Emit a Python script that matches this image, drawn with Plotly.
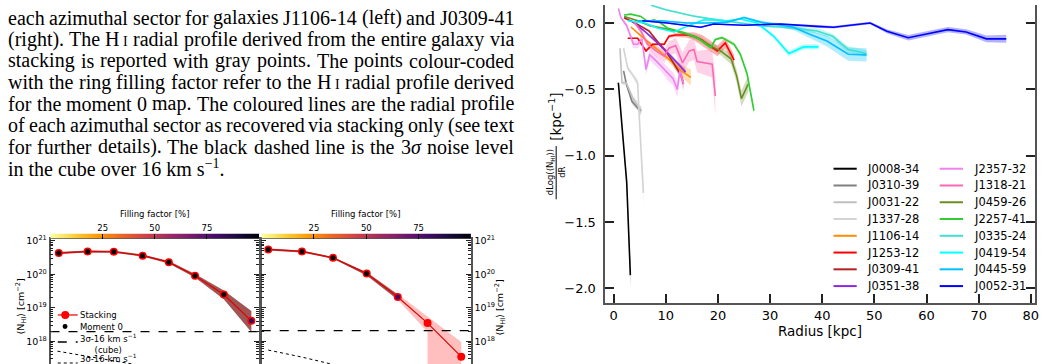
import numpy as np
import plotly.graph_objects as go

W, H = 1049, 364

# ====================== DATA: right figure (dlog<N_HI>/dR vs radius) ======================
NAMES = ["J0008-34", "J0310-39", "J0031-22", "J1337-28", "J1106-14", "J1253-12", "J0309-41", "J0351-38",
         "J2357-32", "J1318-21", "J0459-26", "J2257-41", "J0335-24", "J0419-54", "J0445-59", "J0052-31"]

R_J0008_34 = [0.9, 2.5, 3.2]
D_J0008_34 = [-0.45, -1.20, -1.90]
E_J0008_34 = [0.01, 0.03, 0.10]

R_J0310_39 = [1.9, 2.5, 3.5, 4.6, 5.3]
D_J0310_39 = [-0.36, -0.47, -0.59, -0.64, -0.66]
E_J0310_39 = [0.01, 0.015, 0.02, 0.02, 0.03]

R_J0031_22 = [1.2, 1.6, 2.4, 3.6, 4.6, 5.2]
D_J0031_22 = [-0.19, -0.45, -0.45, -0.56, -0.62, -0.67]
E_J0031_22 = [0.01, 0.015, 0.02, 0.02, 0.03, 0.04]

R_J1337_28 = [1.9, 2.7, 3.8, 4.6, 4.9, 5.3, 5.7]
D_J1337_28 = [-0.19, -0.34, -0.40, -0.45, -0.70, -1.05, -1.28]
E_J1337_28 = [0.01, 0.02, 0.02, 0.03, 0.05, 0.07, 0.10]

R_J1106_14 = [3.3, 5.0, 6.5, 8.1, 9.7, 11.4, 13.0, 14.8]
D_J1106_14 = [-0.03, -0.09, -0.14, -0.19, -0.24, -0.30, -0.36, -0.41]
E_J1106_14 = [0.005, 0.01, 0.01, 0.015, 0.02, 0.03, 0.045, 0.06]

R_J1253_12 = [2.7, 4.6, 6.2, 7.5, 9.7, 10.6, 11.9, 14.1, 15.4, 17.0, 18.0, 19.9, 21.4, 23.1]
D_J1253_12 = [-0.115, -0.115, -0.21, -0.16, -0.16, -0.10, -0.09, -0.09, -0.10, -0.13, -0.16, -0.21, -0.15, -0.28]
E_J1253_12 = [0.005, 0.005, 0.01, 0.01, 0.01, 0.01, 0.015, 0.02, 0.03, 0.04, 0.04, 0.04, 0.04, 0.04]

R_J0309_41 = [2.0, 4.6, 6.8, 8.4, 10.0, 11.6, 12.9, 13.4]
D_J0309_41 = [0.04, -0.01, -0.06, -0.14, -0.21, -0.31, -0.39, -0.46]
E_J0309_41 = [0.005, 0.005, 0.01, 0.01, 0.015, 0.02, 0.03, 0.03]

R_J0351_38 = [3.3, 5.9, 8.4, 11.0, 13.8]
D_J0351_38 = [0.02, -0.06, -0.15, -0.25, -0.37]
E_J0351_38 = [0.005, 0.01, 0.01, 0.015, 0.02]

R_J2357_32 = [0.9, 1.4, 2.5, 3.8, 4.6, 5.4, 6.2, 6.9, 8.0, 9.0, 10.3, 11.4, 12.2, 12.7, 13.4]
D_J2357_32 = [0.11, 0.04, -0.02, -0.16, -0.16, -0.12, -0.35, -0.24, -0.28, -0.32, -0.38, -0.42, -0.50, -0.36, -0.46]
E_J2357_32 = [0.01, 0.01, 0.02, 0.03, 0.03, 0.03, 0.04, 0.04, 0.04, 0.04, 0.05, 0.05, 0.06, 0.06, 0.06]

R_J1318_21 = [3.9, 5.2, 6.5, 8.1, 9.7, 10.6, 11.9, 13.2, 14.5, 15.4, 16.0, 18.0, 18.9, 19.5]
D_J1318_21 = [0.01, -0.06, -0.16, -0.21, -0.25, -0.19, -0.17, -0.30, -0.21, -0.20, -0.29, -0.30, -0.31, -0.55]
E_J1318_21 = [0.01, 0.02, 0.03, 0.04, 0.05, 0.05, 0.06, 0.08, 0.08, 0.08, 0.08, 0.10, 0.10, 0.15]

R_J0459_26 = [2.0, 4.5, 7.0, 9.5, 12.0, 14.5, 16.5, 18.5, 20.5, 22.5, 23.6, 24.5, 25.8]
D_J0459_26 = [0.05, 0.02, -0.02, -0.04, -0.06, -0.09, -0.12, -0.17, -0.21, -0.27, -0.40, -0.57, -0.46]
E_J0459_26 = [0.005, 0.005, 0.01, 0.01, 0.01, 0.015, 0.02, 0.02, 0.03, 0.04, 0.05, 0.06, 0.06]

R_J2257_41 = [2.0, 3.3, 5.2, 6.5, 7.8, 9.0, 10.3, 13.5, 16.0, 18.6, 19.5, 20.8, 23.1, 24.3, 25.6, 26.9]
D_J2257_41 = [0.06, 0.067, 0.05, 0.012, 0.025, 0.0, -0.037, -0.074, -0.11, -0.186, -0.124, -0.11, -0.16, -0.236, -0.384, -0.66]
E_J2257_41 = [0.005, 0.005, 0.005, 0.005, 0.005, 0.005, 0.005, 0.01, 0.01, 0.01, 0.01, 0.01, 0.015, 0.02, 0.025, 0.03]

R_J0335_24 = [5.5, 7.5, 10.0, 12.5, 15.0, 18.0, 21.0, 24.5, 28.0, 32.0, 35.0, 39.0, 42.0, 45.0, 48.5]
D_J0335_24 = [0.18, 0.13, 0.10, 0.075, 0.055, 0.035, 0.02, 0.0, -0.02, -0.03, -0.04, -0.06, -0.10, -0.20, -0.23]
E_J0335_24 = [0.005, 0.005, 0.005, 0.005, 0.005, 0.005, 0.005, 0.01, 0.01, 0.01, 0.015, 0.02, 0.02, 0.025, 0.025]

R_J0419_54 = [2.7, 5.9, 8.4, 11.6, 14.8, 17.3, 21.8, 24.3, 27.5, 30.7, 33.6, 36.4, 39.3]
D_J0419_54 = [0.017, 0.0, -0.037, -0.067, -0.012, 0.025, 0.017, 0.03, 0.0, -0.10, -0.23, -0.18, -0.18]
E_J0419_54 = [0.005, 0.005, 0.005, 0.005, 0.005, 0.005, 0.005, 0.005, 0.01, 0.015, 0.02, 0.02, 0.02]

R_J0445_59 = [4.6, 9.0, 14.1, 18.0, 21.8, 25.0, 28.2, 32.0, 34.5, 37.7, 40.9, 45.0, 48.5]
D_J0445_59 = [0.017, 0.017, 0.0, 0.0, 0.007, 0.042, 0.007, -0.017, -0.032, -0.087, -0.136, -0.235, -0.24]
E_J0445_59 = [0.005, 0.005, 0.005, 0.005, 0.005, 0.01, 0.01, 0.015, 0.02, 0.03, 0.04, 0.05, 0.05]

R_J0052_31 = [5.5, 10.3, 16.7, 19.2, 25.0, 32.0, 39.0, 42.2, 45.4, 49.2, 52.4, 56.5, 60.0, 64.1, 67.6, 71.5, 75.3]
D_J0052_31 = [0.017, 0.0, -0.032, -0.007, -0.017, -0.007, -0.025, -0.032, -0.017, 0.0, -0.062, -0.111, -0.082, -0.05, -0.067, -0.119, -0.119]
E_J0052_31 = [0.005, 0.005, 0.005, 0.005, 0.005, 0.005, 0.01, 0.01, 0.01, 0.01, 0.015, 0.02, 0.02, 0.02, 0.02, 0.025, 0.03]

RADII = [R_J0008_34, R_J0310_39, R_J0031_22, R_J1337_28, R_J1106_14, R_J1253_12, R_J0309_41, R_J0351_38,
         R_J2357_32, R_J1318_21, R_J0459_26, R_J2257_41, R_J0335_24, R_J0419_54, R_J0445_59, R_J0052_31]
SLOPES = [D_J0008_34, D_J0310_39, D_J0031_22, D_J1337_28, D_J1106_14, D_J1253_12, D_J0309_41, D_J0351_38,
          D_J2357_32, D_J1318_21, D_J0459_26, D_J2257_41, D_J0335_24, D_J0419_54, D_J0445_59, D_J0052_31]
ERRORS = [E_J0008_34, E_J0310_39, E_J0031_22, E_J1337_28, E_J1106_14, E_J1253_12, E_J0309_41, E_J0351_38,
          E_J2357_32, E_J1318_21, E_J0459_26, E_J2257_41, E_J0335_24, E_J0419_54, E_J0445_59, E_J0052_31]

# ====================== DATA: small profiles (bottom-left) ======================
R_LEFT = [1.0, 3.2, 5.2, 7.4, 9.4, 11.4, 13.6, 15.7]
N_LEFT_STACK = [4.3e20, 4.8e20, 4.7e20, 3.6e20, 2.3e20, 9.1e19, 2.5e19, 4.1e18]
N_LEFT_HI = [4.6e20, 5.1e20, 5.0e20, 3.9e20, 2.5e20, 1.02e20, 3.3e19, 8.1e18]
N_LEFT_LO = [4.0e20, 4.5e20, 4.4e20, 3.4e20, 2.1e20, 8.0e19, 1.8e19, 1.9e18]
N_LEFT_MOM0 = [4.3e20, 4.8e20, 4.7e20, 3.6e20, 2.3e20, 9.1e19, 2.5e19, 4.1e18]
FF_LEFT = [100, 100, 100, 100, 100, 100, 100, 82]
NOISE_LEFT_CUBE = 1.95e18
R_LEFT_NOISE_STACK = [0.9, 5.2, 9.4, 15.7]
N_LEFT_NOISE_STACK = [5.1e17, 2.6e17, 1.4e17, 5.2e16]

R_RIGHT = [1.0, 3.6, 6.0, 8.6, 11.0, 13.3, 15.9]
N_RIGHT_STACK = [5.5e20, 4.8e20, 3.1e20, 1.05e20, 2.1e19, 3.5e18, 3.5e17]
R_RIGHT_BAND = [1.0, 3.6, 6.0, 8.6, 11.0, 13.3, 13.3, 15.9]
N_RIGHT_BAND_HI = [5.9e20, 5.1e20, 3.3e20, 1.15e20, 2.6e19, 5.5e18, 5.5e18, 9.5e17]
N_RIGHT_BAND_LO = [5.1e20, 4.5e20, 2.9e20, 9.2e19, 1.75e19, 1.9e18, 1e16, 1e16]
R_RIGHT_MOM0 = [1.0, 3.6, 6.0, 8.6, 11.0]
N_RIGHT_MOM0 = [5.5e20, 4.8e20, 3.1e20, 1.05e20, 2.1e19]
N_RIGHT_MOM0_HI = [5.9e20, 5.1e20, 3.3e20, 1.15e20, 2.5e19]
N_RIGHT_MOM0_LO = [5.1e20, 4.5e20, 2.9e20, 9.2e19, 1.75e19]
FF_RIGHT = [100, 100, 100, 100, 80]
NOISE_RIGHT_CUBE = 2.1e18
R_RIGHT_NOISE_STACK = [1.0, 3.6, 6.0, 10.0, 15.9]
N_RIGHT_NOISE_STACK = [5.5e17, 3.4e17, 2.05e17, 9e16, 3e16]

# ====================== TEXT ======================
TEXT_LINES = [
    "each azimuthal sector for galaxies J1106-14 (left) and J0309-41",
    "(right). The HI radial profile derived from the entire galaxy via",
    "stacking is reported with gray points. The points colour-coded",
    "with the ring filling factor refer to the HI radial profile derived",
    "for the moment 0 map. The coloured lines are the radial profile",
    "of each azimuthal sector as recovered via stacking only (see text",
    "for further details). The black dashed line is the 3σ noise level",
]
LAST_LINE = "in the cube over 16 km s<sup>−1</sup>."

# ====================== STYLE ======================
COLORS = ["#000000", "#808080", "#c0c0c0", "#d3d3d3", "#ff8c00", "#ff0000", "#b22222", "#8a2be2",
          "#ee82ee", "#ff69b4", "#6b8e23", "#32cd32", "#40e0d0", "#00ffff", "#00bfff", "#0000ff"]
TXT = "#000000"
SPINE = "#555555"
FONT = "DejaVu Sans"


def rgba(hexc, a):
    hexc = hexc.lstrip("#")
    r, g, b = int(hexc[0:2], 16), int(hexc[2:4], 16), int(hexc[4:6], 16)
    return f"rgba({r},{g},{b},{a})"


def fx(p):
    return p / W


def fy(p):
    return 1 - p / H


fig = go.Figure()

# ---------------- main chart ----------------
for name, col, R, D, E in zip(NAMES, COLORS, RADII, SLOPES, ERRORS):
    up = [d + e for d, e in zip(D, E)]
    lo = [d - e for d, e in zip(D, E)]
    fig.add_trace(go.Scatter(x=R + R[::-1], y=up + lo[::-1], fill="toself", fillcolor=rgba(col, 0.3),
                             line=dict(width=0), mode="lines", hoverinfo="skip", showlegend=False,
                             xaxis="x", yaxis="y"))
for name, col, R, D in zip(NAMES, COLORS, RADII, SLOPES):
    fig.add_trace(go.Scatter(x=R, y=D, mode="lines", line=dict(color=col, width=1.6), name=name,
                             showlegend=False, xaxis="x", yaxis="y"))

# ---------------- bottom-left panels ----------------
X2_RANGE = [0.369, 16.285]
X3_RANGE = [0.492, 16.646]
Y_LOG_RANGE = [17.325, 21.06]
PINK = "rgba(255,0,0,0.25)"
DARK = "rgba(84,0,0,0.555)"

# left panel (J1106-14)
fig.add_trace(go.Scatter(x=R_LEFT + R_LEFT[::-1], y=N_LEFT_HI + N_LEFT_LO[::-1], fill="toself",
                         fillcolor=PINK, line=dict(width=0), mode="lines", hoverinfo="skip",
                         showlegend=False, xaxis="x2", yaxis="y2"))
fig.add_trace(go.Scatter(x=R_LEFT + R_LEFT[::-1], y=N_LEFT_HI + N_LEFT_LO[::-1], fill="toself",
                         fillcolor=DARK, line=dict(width=0), mode="lines", hoverinfo="skip",
                         showlegend=False, xaxis="x2", yaxis="y2"))
fig.add_trace(go.Scatter(x=X2_RANGE, y=[NOISE_LEFT_CUBE] * 2, mode="lines",
                         line=dict(color="black", width=1.3, dash="dash"), showlegend=False,
                         xaxis="x2", yaxis="y2"))
fig.add_trace(go.Scatter(x=R_LEFT_NOISE_STACK, y=N_LEFT_NOISE_STACK, mode="lines",
                         line=dict(color="black", width=1, dash="dot"), showlegend=False,
                         xaxis="x2", yaxis="y2"))
fig.add_trace(go.Scatter(x=R_LEFT, y=N_LEFT_STACK, mode="lines+markers",
                         line=dict(color="#e00000", width=1.2), marker=dict(color="red", size=8),
                         showlegend=False, xaxis="x2", yaxis="y2"))
fig.add_trace(go.Scatter(x=R_LEFT, y=N_LEFT_MOM0, mode="markers",
                         marker=dict(color=FF_LEFT, colorscale="inferno_r", cmin=0, cmax=100, size=5,
                                     line=dict(width=0)),
                         showlegend=False, xaxis="x2", yaxis="y2"))

# right panel (J0309-41)
fig.add_trace(go.Scatter(x=R_RIGHT_BAND + R_RIGHT_BAND[::-1], y=N_RIGHT_BAND_HI + N_RIGHT_BAND_LO[::-1],
                         fill="toself", fillcolor=PINK, line=dict(width=0), mode="lines",
                         hoverinfo="skip", showlegend=False, xaxis="x3", yaxis="y3"))
fig.add_trace(go.Scatter(x=R_RIGHT_MOM0 + R_RIGHT_MOM0[::-1], y=N_RIGHT_MOM0_HI + N_RIGHT_MOM0_LO[::-1],
                         fill="toself", fillcolor=DARK, line=dict(width=0), mode="lines",
                         hoverinfo="skip", showlegend=False, xaxis="x3", yaxis="y3"))
fig.add_trace(go.Scatter(x=X3_RANGE, y=[NOISE_RIGHT_CUBE] * 2, mode="lines",
                         line=dict(color="black", width=1.3, dash="dash"), showlegend=False,
                         xaxis="x3", yaxis="y3"))
fig.add_trace(go.Scatter(x=R_RIGHT_NOISE_STACK, y=N_RIGHT_NOISE_STACK, mode="lines",
                         line=dict(color="black", width=1, dash="dot"), showlegend=False,
                         xaxis="x3", yaxis="y3"))
fig.add_trace(go.Scatter(x=R_RIGHT, y=N_RIGHT_STACK, mode="lines+markers",
                         line=dict(color="#e00000", width=1.2), marker=dict(color="red", size=8),
                         showlegend=False, xaxis="x3", yaxis="y3"))
fig.add_trace(go.Scatter(x=R_RIGHT_MOM0, y=N_RIGHT_MOM0, mode="markers",
                         marker=dict(color=FF_RIGHT, colorscale="inferno_r", cmin=0, cmax=100, size=5,
                                     line=dict(width=0)),
                         showlegend=False, xaxis="x3", yaxis="y3"))

# colour bars (filling factor)
FILL_GRID = np.linspace(0, 100, 201)
for xa, ya in (("x4", "y4"), ("x5", "y5")):
    fig.add_trace(go.Heatmap(x=FILL_GRID, y=[0], z=[FILL_GRID], colorscale="inferno_r", zmin=0, zmax=100,
                             showscale=False, hoverinfo="skip", xaxis=xa, yaxis=ya))

# ---------------- axes ----------------
P1 = [50.7 / W, 260.0 / W]
P2 = [262.7 / W, 472.7 / W]
PANEL_Y = [0.0, fy(237.0)]
CBAR_Y = [fy(236.7), fy(231.7)]
MAJ = [1e18, 1e19, 1e20, 1e21]
MAJ_TXT = ["10<sup>18</sup>", "10<sup>19</sup>", "10<sup>20</sup>", "10<sup>21</sup>"]
MINOR = [k * 10.0 ** n for n in range(17, 21) for k in range(2, 10)]

common_log = dict(type="log", range=Y_LOG_RANGE, domain=PANEL_Y, showgrid=False, zeroline=False,
                  showline=True, linecolor=SPINE, linewidth=1.5, mirror="ticks", ticks="inside",
                  ticklen=5, tickwidth=1, tickcolor="#222", tickmode="array", tickvals=MAJ,
                  ticktext=MAJ_TXT, tickfont=dict(size=9.5, color=TXT, family=FONT),
                  minor=dict(ticks="inside", ticklen=3, tickwidth=0.8, tickcolor="#222",
                             tickmode="array", tickvals=MINOR, showgrid=False))
common_px = dict(showgrid=False, zeroline=False, showline=True, linecolor=SPINE, linewidth=1.5,
                 mirror=True, ticks="", showticklabels=False)
common_cb_x = dict(range=[0, 100], side="top", tickmode="array", tickvals=[25, 50, 75], ticks="inside",
                   ticklen=5, tickwidth=1, tickcolor="black", showgrid=False, zeroline=False,
                   showline=False, tickfont=dict(size=8.5, color=TXT, family=FONT))

fig.update_layout(
    width=W, height=H, margin=dict(l=0, r=0, t=0, b=0), autosize=False,
    paper_bgcolor="white", plot_bgcolor="white",
    font=dict(family=FONT, color=TXT),
    showlegend=False,
    xaxis=dict(domain=[607.7 / W, 1038.7 / W], range=[-1.59, 80.76], anchor="y", showgrid=False,
               zeroline=False, showline=True, linecolor=SPINE, linewidth=1.8, mirror=False,
               ticks="inside", ticklen=9, tickwidth=1.5, tickcolor="#222", tickmode="linear",
               tick0=0, dtick=10, tickfont=dict(size=13, color=TXT, family=FONT)),
    yaxis=dict(domain=[fy(301.7), 1.0], range=[-2.107, 0.136], anchor="x", showgrid=False,
               zeroline=False, showline=True, linecolor=SPINE, linewidth=1.8, mirror="ticks",
               ticks="inside", ticklen=9, tickwidth=1.5, tickcolor="#222", tickmode="linear",
               tick0=0, dtick=0.5, tickformat=".1f", ticklabelstandoff=5,
               tickfont=dict(size=13, color=TXT, family=FONT)),
    xaxis2=dict(domain=P1, range=X2_RANGE, anchor="y2", **common_px),
    yaxis2=dict(anchor="x2", side="left", **common_log),
    xaxis3=dict(domain=P2, range=X3_RANGE, anchor="y3", **common_px),
    yaxis3=dict(anchor="x3", side="right", **common_log),
    xaxis4=dict(domain=P1, anchor="y4", **common_cb_x),
    yaxis4=dict(domain=CBAR_Y, anchor="x4", visible=False, range=[-0.5, 0.5]),
    xaxis5=dict(domain=P2, anchor="y5", **common_cb_x),
    yaxis5=dict(domain=CBAR_Y, anchor="x5", visible=False, range=[-0.5, 0.5]),
)

annotations = []
shapes = []


def ann(x, y, text, size, xanchor="center", yanchor="middle", angle=0, family=FONT, color=TXT):
    annotations.append(dict(x=fx(x), y=fy(y), xref="paper", yref="paper", text=text, showarrow=False,
                            xanchor=xanchor, yanchor=yanchor, textangle=angle, borderpad=0,
                            font=dict(size=size, family=family, color=color)))


# main chart titles
ann(823.2, 330.5, "Radius [kpc]", 13.5)
ann(557.0, 113.5, "[kpc<sup>−1</sup>]", 13.5, angle=-90)
ann(552.7, 170.0, "dLog(⟨N<sub>HI</sub>⟩)", 8.5, angle=-90)
ann(564.3, 170.0, "dR", 8.5, angle=-90)
shapes.append(dict(type="line", xref="paper", yref="paper", x0=fx(558.3), x1=fx(558.3), y0=fy(143),
                   y1=fy(197), line=dict(color="black", width=1)))

# main chart legend (two columns)
LEG_COL_SAMPLE = [(836.7, 860.0), (943.3, 966.7)]
LEG_COL_TEXT = [869.3, 976.7]
for i, (name, col) in enumerate(zip(NAMES, COLORS)):
    c, r = divmod(i, 8)
    yy = 166.0 + 17.0 * r
    shapes.append(dict(type="line", xref="paper", yref="paper", x0=fx(LEG_COL_SAMPLE[c][0]),
                       x1=fx(LEG_COL_SAMPLE[c][1]), y0=fy(yy), y1=fy(yy), line=dict(color=col, width=2)))
    ann(LEG_COL_TEXT[c], yy, name, 11.5, xanchor="left")

# panel titles / labels
ann(155.4, 211.7, "Filling factor [%]", 8.5)
ann(367.7, 211.7, "Filling factor [%]", 8.5)
ann(20.7, 306.0, "⟨N<sub>HI</sub>⟩ [cm<sup>−2</sup>]", 9.5, angle=-90)
ann(501.7, 307.0, "⟨N<sub>HI</sub>⟩ [cm<sup>−2</sup>]", 9.5, angle=-90)

# panel legend
shapes.append(dict(type="line", xref="paper", yref="paper", x0=fx(58), x1=fx(78), y0=fy(314.3), y1=fy(314.3),
                   line=dict(color="#e00000", width=1.2)))
shapes.append(dict(type="circle", xref="paper", yref="paper", x0=fx(61.5), x1=fx(69.5), y0=fy(318.3),
                   y1=fy(310.3), fillcolor="red", line=dict(width=0)))
shapes.append(dict(type="circle", xref="paper", yref="paper", x0=fx(62.8), x1=fx(67.8), y0=fy(328.5),
                   y1=fy(323.5), fillcolor="black", line=dict(width=0)))
shapes.append(dict(type="line", xref="paper", yref="paper", x0=fx(58), x1=fx(78), y0=fy(341.7), y1=fy(341.7),
                   line=dict(color="black", width=1.3, dash="dash")))
shapes.append(dict(type="line", xref="paper", yref="paper", x0=fx(58), x1=fx(78), y0=fy(363), y1=fy(363),
                   line=dict(color="black", width=1, dash="dot")))
ann(79.5, 314.3, "Stacking", 8.5, xanchor="left")
ann(79.5, 326.0, "Moment 0", 8.5, xanchor="left")
ann(79.5, 343.0, "3σ-16 km s<sup>−1</sup><br>(cube)", 8.5, xanchor="left")
ann(79.5, 357.5, "3σ-16 km s<sup>−1</sup>", 8.5, xanchor="left")

# ---------------- paper text (justified) ----------------
TIMES = {" ": 250, "a": 444, "b": 500, "c": 444, "d": 500, "e": 444, "f": 333, "g": 500, "h": 500,
         "i": 278, "j": 278, "k": 500, "l": 278, "m": 778, "n": 500, "o": 500, "p": 500, "q": 500,
         "r": 333, "s": 389, "t": 278, "u": 500, "v": 500, "w": 722, "x": 500, "y": 500, "z": 444,
         "H": 722, "J": 389, "T": 611, "I": 333, "(": 333, ")": 333, ".": 250, ",": 250, "-": 333,
         "σ": 520}
for d in "0123456789":
    TIMES[d] = 500
SPECIAL = {"HI": ("H<span style='font-size:14px'> I</span>", 722 + 180 + 240),
           "3σ": ("3<i>σ</i>", 500 + 520)}
TFS = 20.0
TEXT_LEFT, TEXT_RIGHT = 7.0, 515.0
LINE_Y0, LINE_DY = 12.7, 21.86
SERIF = "Liberation Serif"

for li, line in enumerate(TEXT_LINES):
    words = line.split(" ")
    htmls, widths = [], []
    for w in words:
        if w in SPECIAL:
            h, u = SPECIAL[w]
        else:
            h, u = w, sum(TIMES.get(ch, 500) for ch in w)
        htmls.append(h)
        widths.append(u * TFS / 1000.0)
    gap = (TEXT_RIGHT - TEXT_LEFT - sum(widths)) / (len(words) - 1)
    xpos = TEXT_LEFT
    yy = LINE_Y0 + LINE_DY * li
    for h, wdt in zip(htmls, widths):
        ann(xpos, yy, h, TFS, xanchor="left", family=SERIF)
        xpos += wdt + gap
ann(TEXT_LEFT, LINE_Y0 + LINE_DY * 7, LAST_LINE, TFS, xanchor="left", family=SERIF)

fig.update_layout(annotations=annotations, shapes=shapes)
fig.write_html("out.html")
